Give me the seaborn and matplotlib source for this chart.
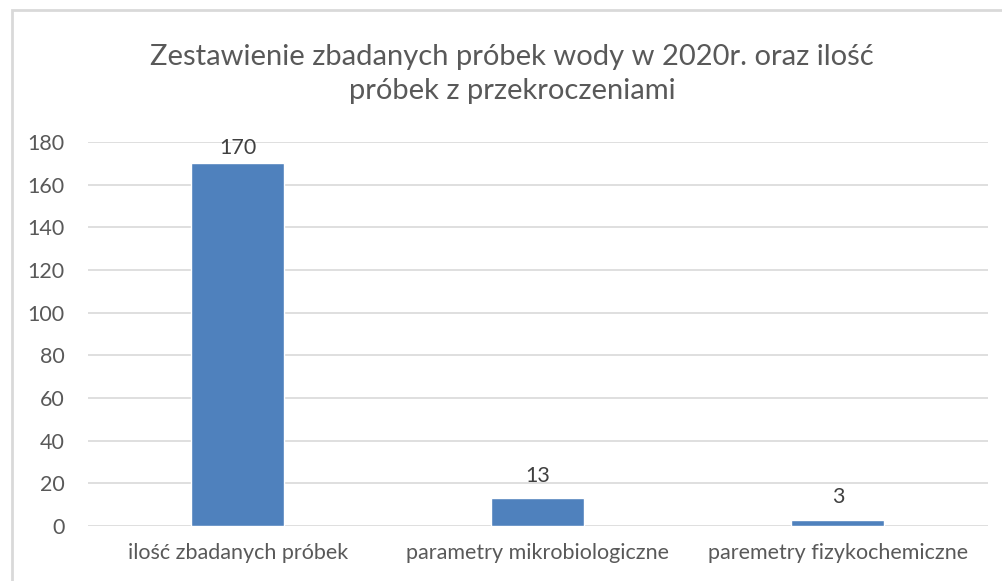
import pandas as pd
import seaborn as sns
import matplotlib.pyplot as plt
from matplotlib.patches import Rectangle

categories = ['ilość zbadanych próbek', 'parametry mikrobiologiczne', 'paremetry fizykochemiczne']
values = [170, 13, 3]
y_ticks = [0, 20, 40, 60, 80, 100, 120, 140, 160, 180]
title = 'Zestawienie zbadanych próbek wody w 2020r. oraz ilość\npróbek z przekroczeniami'

df = pd.DataFrame({'kategoria': categories, 'liczba': values})

sns.set_theme(style='white')
plt.rcParams['font.family'] = ['Lato', 'DejaVu Sans']
text_color = '#595959'

fig = plt.figure(figsize=(10.02, 5.81), dpi=100)
ax = fig.add_axes([0.0878, 0.0947, 0.8982, 0.661])

sns.barplot(data=df, x='kategoria', y='liczba', color='#4F81BD', saturation=1,
            width=0.31, ax=ax, zorder=3)

ax.set_ylim(0, 180)
ax.set_yticks(y_ticks)
ax.set_xlim(-0.5, 2.5)
ax.grid(axis='y', color='#D9D9D9', linewidth=1.2, zorder=0)
ax.set_axisbelow(True)
for s in ax.spines.values():
    s.set_visible(False)
ax.set_xlabel('')
ax.set_ylabel('')
ax.tick_params(axis='both', length=0, colors=text_color)
ax.tick_params(axis='y', labelsize=15.5, pad=17)
ax.tick_params(axis='x', labelsize=15.5, pad=12)

# value labels; the top one sits tighter like Excel keeps it inside the plot area
label_pads = [4, 9, 9]
for i, v in enumerate(values):
    ax.annotate(str(v), (i, v), xytext=(0, label_pads[i]), textcoords='offset points',
                ha='center', va='bottom', fontsize=15.5, color='#404040',
                annotation_clip=False)

fig.text(0.511, 0.873, title, ha='center', va='center', fontsize=21,
         color=text_color, linespacing=1.4)

# light frame like the original chart box
fig.patches.append(Rectangle((12 / 1002, -0.1), 1.2, 1 - 10 / 581 + 0.1,
                             transform=fig.transFigure, fill=False,
                             edgecolor='#D9D9D9', linewidth=2))

fig.savefig('out.png', dpi=100)
